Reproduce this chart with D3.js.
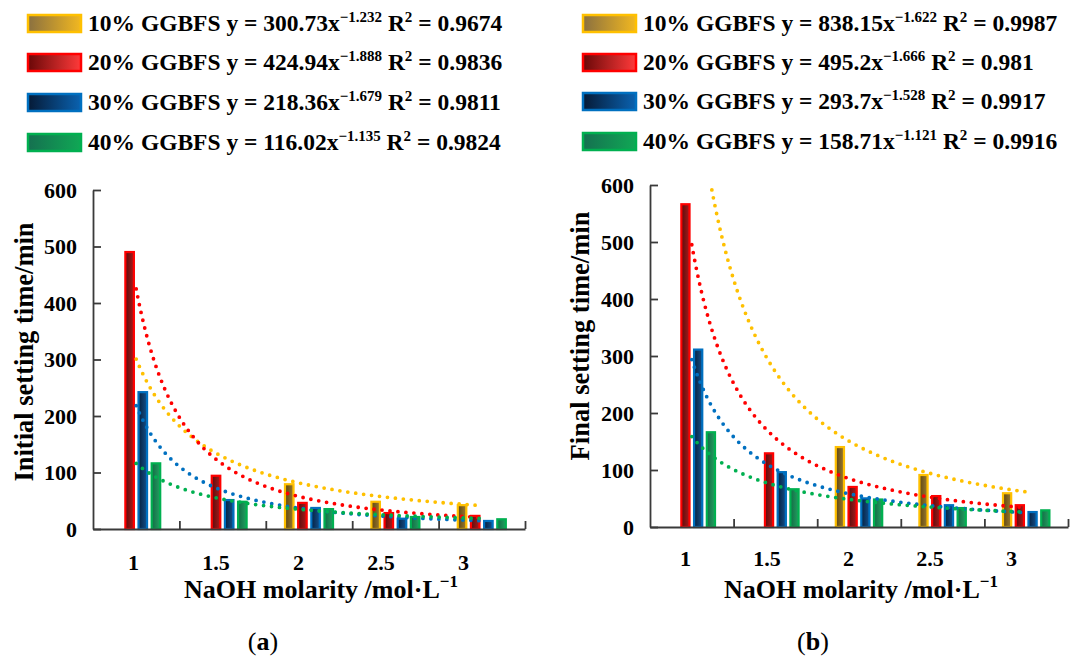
<!DOCTYPE html>
<html>
<head>
<meta charset="utf-8">
<script src="https://cdn.jsdelivr.net/npm/d3@7"></script>
<style>
body { margin: 0; background: #fff; }
text { font-family: "Liberation Serif", "Times New Roman", serif; font-weight: bold; fill: #000; }
</style>
</head>
<body>
<svg id="chart" width="1079" height="657"></svg>
<script>
var categories = ['1', '1.5', '2', '2.5', '3'];
var seriesNames = ['10% GGBFS', '20% GGBFS', '30% GGBFS', '40% GGBFS'];
var yTicks = [0, 100, 200, 300, 400, 500, 600];

// (a) initial setting time, min
var initial10 = [null, null, 81, 50, 44];
var initial20 = [492, 96, 48, 30, 25];
var initial30 = [244, 53, 39, 20, 16];
var initial40 = [118, 50, 37, 23, 19];
var initialCoef = [300.73, 424.94, 218.36, 116.02];
var initialExp = [-1.232, -1.888, -1.679, -1.135];
var initialR2 = ['0.9674', '0.9836', '0.9811', '0.9824'];

// (b) final setting time, min
var final10 = [null, null, 142, 93, 61];
var final20 = [568, 131, 72, 56, 40];
var final30 = [313, 98, 52, 40, 28];
var final40 = [168, 68, 50, 35, 31];
var finalCoef = [838.15, 495.2, 293.7, 158.71];
var finalExp = [-1.622, -1.666, -1.528, -1.121];
var finalR2 = ['0.9987', '0.981', '0.9917', '0.9916'];

var lineColor = ['#ffc000', '#ff0000', '#0070c0', '#00b050'];
var barDark = ['#5e4510', '#5a0c0c', '#06203e', '#146a45'];
var barLight = ['#9a7a30', '#a81c1c', '#14508a', '#22a060'];
var swDark = ['#8a7040', '#6a0808', '#061a36', '#157050'];
var swLight = ['#f2b820', '#ff3a3a', '#0a62b0', '#10a855'];

var svg = d3.select('#chart');
var defs = svg.append('defs');

lineColor.forEach(function(c, i) {
  var g = defs.append('linearGradient').attr('id', 'bar' + i);
  g.append('stop').attr('offset', '0%').attr('stop-color', barDark[i]);
  g.append('stop').attr('offset', '100%').attr('stop-color', barLight[i]);
  var s = defs.append('linearGradient').attr('id', 'sw' + i);
  s.append('stop').attr('offset', '0%').attr('stop-color', swDark[i]);
  s.append('stop').attr('offset', '100%').attr('stop-color', swLight[i]);
});

function drawPanel(p) {
  var x = d3.scaleBand().domain(categories).range([p.left, p.right]).paddingInner(0.36).paddingOuter(0.18);
  var xs = d3.scaleBand().domain([0, 1, 2, 3]).range([0, x.bandwidth()]).padding(0.2);
  var y = d3.scaleLinear().domain([0, 600]).range([p.bottom, p.top]);

  // legend
  var leg = svg.append('g');
  seriesNames.forEach(function(name, i) {
    var ry = p.legendY[i];
    leg.append('rect')
    .attr('x', p.legendX).attr('y', ry - 8).attr('width', 53).attr('height', 17)
    .attr('fill', 'url(#sw' + i + ')').attr('stroke', lineColor[i]).attr('stroke-width', 2.5);
    var t = leg.append('text').attr('x', p.legendX + 60).attr('y', ry).attr('dy', '0.35em')
    .style('font-size', '23.5px');
    t.append('tspan').text(name + p.gap[i] + 'y = ' + p.coef[i] + 'x');
    t.append('tspan').attr('dy', -9).style('font-size', '15px').text('\u2212' + Math.abs(p.exp[i]));
    t.append('tspan').attr('dy', 9).text(' R');
    t.append('tspan').attr('dy', -9).style('font-size', '15px').text('2');
    t.append('tspan').attr('dy', 9).text(' = ' + p.r2[i]);
  });

  // bars
  var groups = svg.append('g').selectAll('g').data(categories).enter().append('g')
  .attr('transform', function(d) { return 'translate(' + x(d) + ',0)'; });

  groups.selectAll('rect')
  .data(function(d, ci) { return p.values.map(function(v, si) { return {s: si, v: v[ci]}; }); })
  .enter().filter(function(d) { return d.v != null; })
  .append('rect')
  .attr('x', function(d) { return xs(d.s) + 1; })
  .attr('y', function(d) { return y(d.v) + 1; })
  .attr('width', xs.bandwidth() - 2)
  .attr('height', function(d) { return y(0) - y(d.v) - 1; })
  .attr('fill', function(d) { return 'url(#bar' + d.s + ')'; })
  .attr('stroke', function(d) { return lineColor[d.s]; })
  .attr('stroke-width', 2.2);

  // power trendlines, x = category index 1..5
  var xt = d3.scaleLinear().domain([1, 5])
  .range([x(categories[0]) + x.bandwidth() / 2, x(categories[4]) + x.bandwidth() / 2]);
  var line = d3.line().x(function(d) { return xt(d[0]); }).y(function(d) { return y(d[1]); }).curve(d3.curveMonotoneX);
  p.coef.forEach(function(c, i) {
    var pts = d3.range(1, 5.0001, 0.02).map(function(k) { return [k, c * Math.pow(k, p.exp[i])]; })
    .filter(function(d) { return d[1] <= 600; });
    svg.append('path').datum(pts)
    .attr('d', line).attr('fill', 'none')
    .attr('stroke', lineColor[i]).attr('stroke-width', 3.8)
    .attr('stroke-linecap', 'round').attr('stroke-dasharray', '0,8');
  });

  // axes
  var yAxis = svg.append('g').attr('transform', 'translate(' + p.left + ',0)')
  .call(d3.axisLeft(y).tickValues(yTicks).tickSizeInner(-8).tickSizeOuter(0).tickPadding(16));
  yAxis.selectAll('text').style('font-size', '22px');

  var bx = d3.scaleLinear().domain([0, 5]).range([p.left, p.right]);
  svg.append('g').attr('transform', 'translate(0,' + p.bottom + ')')
  .call(d3.axisBottom(bx).tickValues([1, 2, 3, 4, 5]).tickSizeInner(-8).tickSizeOuter(0).tickFormat(''));

  var lx = d3.scalePoint().domain(categories).range(p.labelRange);
  var xl = svg.append('g').attr('transform', 'translate(0,' + (p.bottom + p.labelDy) + ')')
  .call(d3.axisBottom(lx).tickSize(0).tickPadding(0));
  xl.select('.domain').remove();
  xl.selectAll('text').style('font-size', '22px');

  svg.selectAll('.domain, .tick line').attr('stroke', '#3a3a3a').attr('stroke-width', 1.8);

  // titles
  svg.append('text')
  .attr('transform', 'translate(' + p.yTitleX + ',' + p.yTitleY + ') rotate(-90)')
  .attr('text-anchor', 'middle').style('font-size', '26.5px').text(p.yTitle);

  var xt2 = svg.append('text').attr('x', p.xTitleX).attr('y', 598).attr('text-anchor', 'middle').style('font-size', '26px');
  xt2.append('tspan').text('NaOH molarity /mol\u00b7L');
  xt2.append('tspan').attr('dy', -11).style('font-size', '17px').text('\u22121');

  var pl = svg.append('text').attr('x', p.labelX).attr('y', 650).attr('text-anchor', 'middle')
  .style('font-size', '26px').style('font-weight', 'normal');
  pl.append('tspan').text('(');
  pl.append('tspan').style('font-weight', 'bold').text(p.label);
  pl.append('tspan').text(')');
}

drawPanel({
  left: 93, right: 525, top: 190, bottom: 529,
  values: [initial10, initial20, initial30, initial40],
  coef: initialCoef, exp: initialExp, r2: initialR2,
  gap: [' ', ' ', ' ', '  '],
  legendX: 28, legendY: [23, 62, 102, 142],
  labelRange: [133, 463], labelDy: 25,
  yTitle: 'Initial setting time/min', yTitleX: 33, yTitleY: 352,
  xTitleX: 321, labelX: 263, label: 'a'
});

drawPanel({
  left: 650, right: 1068, top: 185, bottom: 527,
  values: [final10, final20, final30, final40],
  coef: finalCoef, exp: finalExp, r2: finalR2,
  gap: ['  ', ' ', '  ', ' '],
  legendX: 583, legendY: [23, 62, 101, 141],
  labelRange: [685, 1011], labelDy: 23,
  yTitle: 'Final setting time/min', yTitleX: 589, yTitleY: 336,
  xTitleX: 861, labelX: 813, label: 'b'
});
</script>
</body>
</html>
